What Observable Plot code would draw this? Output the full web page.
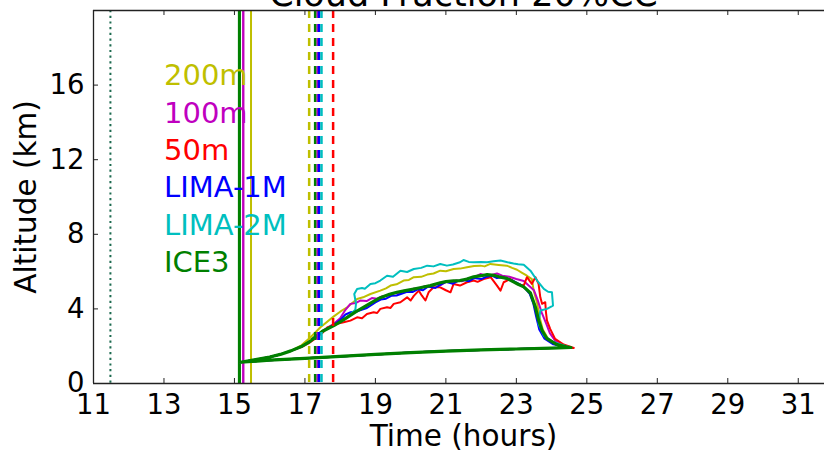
<!DOCTYPE html>
<html><head><meta charset="utf-8">
<script src="https://cdn.jsdelivr.net/npm/d3@7"></script>
<script src="https://cdn.jsdelivr.net/npm/@observablehq/plot@0.6"></script>
<style>
html,body{margin:0;padding:0;background:#fff;overflow:hidden;width:824px;height:451px}
#chart{position:relative;width:824px;height:451px;overflow:hidden}
#chart svg{max-width:none !important;width:840px !important;height:451px !important;font-family:"DejaVu Sans",sans-serif}
</style></head><body><div id="chart"></div>
<script>
const series = ["200m", "100m", "50m", "LIMA-1M", "LIMA-2M", "ICE3"];
const colors = ["#bfbf00", "#bf00bf", "#ff0000", "#0000ff", "#00bfbf", "#008000"];
const xTicks = [11, 13, 15, 17, 19, 21, 23, 25, 27, 29, 31];
const yTicks = [0, 4, 8, 12, 16];
const legendY = [16, 14, 12, 10, 8, 6];
const solidTimes = [15.47, 15.25, 15.14, 15.14, 15.14, 15.14];
const dashedTimes = [17.12, 17.36, 17.80, 17.40, 17.47, 17.29];
const dottedTime = [11.48];
const titleText = "Cloud Fraction 20%CC";

const commonRise = [[15.17,1.14],[15.6,1.28],[16.0,1.42],[16.3,1.56],[16.6,1.75]];
const lowerBranch = [[24.0,1.90],[23.0,1.85],[22.0,1.80],[21.0,1.74],[20.0,1.66],[19.0,1.56],[18.0,1.45],[17.0,1.35],[16.0,1.25],[15.17,1.14]];

const upper200m = [[16.9,2.05],[17.16,2.48],[17.44,3.02],[17.82,3.6],[18.0,3.85],[18.2,4.09],[18.48,4.53],[18.65,4.62],[18.86,4.8],[19.14,4.98],[19.3,5.1],[19.43,5.25],[19.6,5.32],[19.8,5.52],[19.95,5.55],[20.09,5.7],[20.3,5.72],[20.47,5.84],[20.65,5.9],[20.84,6.05],[21.0,6.02],[21.22,6.14],[21.4,6.16],[21.6,6.23],[21.8,6.3],[21.98,6.32],[22.1,6.28],[22.26,6.41],[22.5,6.36],[22.73,6.32],[22.88,6.2],[23.02,6.1],[23.15,5.95],[23.3,5.78],[23.44,5.6],[23.49,5.0],[23.59,4.3],[23.65,3.6],[23.75,2.9],[23.9,2.4],[24.15,2.08],[24.45,1.95],[24.52,1.93]];
const upper100m = [[16.9,1.98],[17.1,2.22],[17.3,2.52],[17.5,2.82],[17.82,3.2],[18.0,3.5],[18.15,3.95],[18.29,4.27],[18.45,4.32],[18.57,4.45],[18.75,4.42],[18.9,4.58],[19.05,4.55],[19.2,4.68],[19.35,4.72],[19.5,4.85],[19.65,4.82],[19.8,4.97],[19.95,4.95],[20.1,5.1],[20.25,5.08],[20.4,5.22],[20.55,5.18],[20.7,5.32],[20.85,5.28],[21.0,5.45],[21.15,5.42],[21.3,5.52],[21.45,5.48],[21.6,5.62],[21.8,5.7],[21.98,5.87],[22.15,5.78],[22.3,5.82],[22.45,5.9],[22.6,5.78],[22.8,5.72],[23.0,5.6],[23.21,5.5],[23.35,5.25],[23.5,5.0],[23.6,4.5],[23.72,3.8],[23.85,3.2],[23.95,2.7],[24.1,2.3],[24.35,2.02],[24.5,1.94]];
const upper50m = [[16.9,1.95],[17.1,2.15],[17.3,2.42],[17.5,2.72],[17.63,3.0],[17.91,3.2],[18.1,3.28],[18.29,3.37],[18.48,3.55],[18.62,3.5],[18.76,3.73],[18.95,3.82],[19.05,3.78],[19.14,4.0],[19.33,4.09],[19.43,4.05],[19.52,4.27],[19.71,4.36],[19.9,4.62],[20.0,4.45],[20.09,4.7],[20.23,4.98],[20.32,4.71],[20.42,4.45],[20.51,4.89],[20.65,5.16],[20.84,5.16],[21.0,5.0],[21.13,4.89],[21.22,5.34],[21.4,5.25],[21.6,5.43],[21.79,5.52],[21.9,5.45],[22.07,5.6],[22.27,5.7],[22.45,5.25],[22.55,4.98],[22.64,5.43],[22.83,5.6],[23.02,5.34],[23.21,5.25],[23.3,5.7],[23.44,5.34],[23.54,5.7],[23.63,5.34],[23.68,4.62],[23.73,4.27],[23.82,4.36],[23.84,3.82],[23.87,3.37],[23.96,2.93],[24.1,2.39],[24.34,2.09],[24.63,1.91]];
const upperLima1 = [[16.9,1.98],[17.1,2.2],[17.3,2.5],[17.5,2.8],[17.82,3.15],[18.0,3.4],[18.15,3.7],[18.3,3.82],[18.5,3.88],[18.76,4.05],[19.0,4.35],[19.15,4.5],[19.3,4.55],[19.45,4.7],[19.6,4.72],[19.9,4.92],[20.05,4.9],[20.2,5.05],[20.35,5.0],[20.5,5.2],[20.7,5.12],[20.85,5.3],[21.0,5.45],[21.2,5.35],[21.35,5.5],[21.5,5.55],[21.65,5.48],[21.8,5.65],[22.0,5.6],[22.15,5.72],[22.3,5.78],[22.45,5.65],[22.6,5.7],[22.75,5.6],[22.9,5.52],[23.1,5.32],[23.25,5.1],[23.38,4.8],[23.48,4.3],[23.56,3.6],[23.65,2.9],[23.8,2.4],[24.05,2.1],[24.4,1.95],[24.5,1.93]];
const upperLima2 = [[16.9,1.98],[17.1,2.2],[17.3,2.5],[17.5,2.8],[17.82,3.1],[18.2,3.55],[18.43,3.95],[18.45,4.28],[18.4,4.8],[18.48,5.07],[18.62,5.12],[18.7,5.08],[18.86,5.34],[19.0,5.38],[19.14,5.52],[19.33,5.78],[19.5,5.72],[19.71,6.05],[19.9,5.98],[20.09,6.14],[20.3,6.2],[20.47,6.32],[20.65,6.28],[20.84,6.41],[21.03,6.32],[21.2,6.38],[21.4,6.5],[21.5,6.62],[21.65,6.52],[21.79,6.5],[22.0,6.52],[22.17,6.5],[22.35,6.55],[22.55,6.59],[22.75,6.5],[22.92,6.44],[23.05,6.4],[23.21,6.37],[23.4,6.05],[23.59,5.52],[23.78,5.07],[23.9,4.92],[24.01,4.89],[24.04,4.18],[23.87,4.0],[23.68,3.91],[23.63,3.2],[23.78,2.57],[24.06,2.21],[24.44,1.98],[24.5,1.95]];
const upperIce3 = [[16.9,1.98],[17.1,2.2],[17.3,2.5],[17.5,2.8],[17.82,3.1],[18.0,3.3],[18.2,3.55],[18.45,3.85],[18.67,4.09],[18.9,4.35],[19.14,4.6],[19.4,4.78],[19.61,4.89],[19.85,4.98],[20.09,5.07],[20.3,5.15],[20.56,5.25],[20.84,5.4],[21.0,5.46],[21.22,5.5],[21.4,5.52],[21.6,5.6],[21.79,5.72],[22.0,5.78],[22.17,5.84],[22.36,5.8],[22.55,5.7],[22.73,5.64],[22.92,5.45],[23.05,5.32],[23.21,5.18],[23.4,4.85],[23.54,4.1],[23.63,3.4],[23.73,2.84],[23.87,2.4],[24.15,2.09],[24.44,1.95],[24.55,1.93]];
const uppers = [upper200m, upper100m, upper50m, upperLima1, upperLima2, upperIce3];

const loopRows = series.flatMap((s, i) =>
  [...commonRise, ...uppers[i], ...lowerBranch].map(([t, z]) => ({series: s, color: colors[i], t, z})));
const thinRows = loopRows.filter(d => d.series !== "ICE3");
const iceRows = loopRows.filter(d => d.series === "ICE3");
const vRows = series.map((s, i) => ({series: s, color: colors[i], solid: solidTimes[i], dashed: dashedTimes[i], ly: legendY[i], lx: 13}));

const W = 840, H = 451, ML = 93, MR = 7, MT = 10, MB = 68;
const xDomain = [11, 32], yDomain = [0, 20];
const frameW = W - ML - MR, frameH = H - MT - MB;

const chart = Plot.plot({
  width: W, height: H,
  marginLeft: ML, marginRight: MR, marginTop: MT, marginBottom: MB,
  x: {domain: xDomain},
  y: {domain: yDomain},
  color: {type: "identity"},
  style: {fontFamily: "DejaVu Sans, sans-serif", background: "white", overflow: "visible"},
  marks: [
    Plot.ruleX(dottedTime, {x: d => d, stroke: "#1d6b50", strokeWidth: 2, strokeDasharray: "2.2,3.5"}),
    Plot.ruleX(vRows, {x: "solid", stroke: "color", strokeWidth: 2}),
    Plot.ruleX(vRows.filter(d => d.series === "ICE3"), {x: "solid", stroke: "color", strokeWidth: 3}),
    Plot.ruleX(vRows.filter(d => d.series === "100m"), {x: "solid", stroke: "color", strokeWidth: 2}),
    Plot.line(thinRows, {x: "t", y: "z", z: "series", stroke: "color", strokeWidth: 2, strokeLinejoin: "round"}),
    Plot.line(iceRows, {x: "t", y: "z", z: "series", stroke: "color", strokeWidth: 3.2, strokeLinejoin: "round"}),
    Plot.ruleX(vRows, {x: "dashed", stroke: "color", strokeWidth: 2.5, strokeDasharray: "8,6"}),
    Plot.text(vRows, {x: "lx", y: "ly", text: "series", fill: "color", textAnchor: "start", lineAnchor: "middle", dy: -9, fontSize: 29}),
    Plot.ruleY(yDomain, {stroke: "#222", strokeWidth: 1.3}),
    Plot.ruleX([xDomain[0]], {stroke: "#222", strokeWidth: 1.3}),
    Plot.tickX(xTicks, {x: d => d, insetTop: frameH - 5, stroke: "#222"}),
    Plot.tickX(xTicks, {x: d => d, insetBottom: frameH - 5, stroke: "#222"}),
    Plot.tickY(yTicks, {y: d => d, insetRight: frameW - 5, stroke: "#222"}),
    Plot.axisX({ticks: xTicks, tickSize: 0, tickPadding: 11, fontSize: 27.5, label: null, tickFormat: d => String(d)}),
    Plot.axisY({ticks: yTicks, tickSize: 0, tickPadding: 9, fontSize: 27.5, label: null, tickFormat: d => String(d)}),
    Plot.text(["Time (hours)"], {frameAnchor: "bottom", lineAnchor: "middle", textAnchor: "middle", dy: 53, fontSize: 29.5, fill: "black"}),
    Plot.text(["Altitude (km)"], {frameAnchor: "left", lineAnchor: "middle", textAnchor: "middle", rotate: -90, dx: -67, fontSize: 29.5, fill: "black"}),
    Plot.text([titleText], {frameAnchor: "top", lineAnchor: "middle", textAnchor: "middle", dy: -16, fontSize: 35, fill: "black"})
  ]
});
document.getElementById("chart").appendChild(chart);
</script></body></html>
